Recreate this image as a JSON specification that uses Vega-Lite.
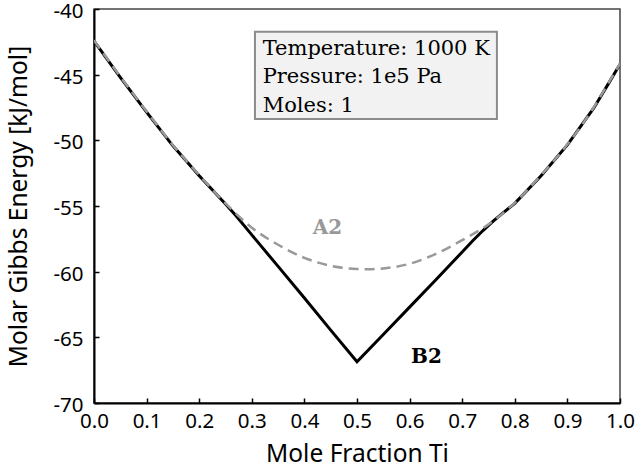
{
  "$schema": "https://vega.github.io/schema/vega-lite/v6.json",
  "width": 526,
  "height": 394,
  "autosize": {"type": "none"},
  "padding": {"left": 94, "top": 9, "right": 17, "bottom": 64},
  "background": "white",
  "config": {
    "view": {"stroke": "#444", "strokeWidth": 1.5},
    "axis": {
      "grid": false,
      "domainColor": "black",
      "domainWidth": 2,
      "tickColor": "black",
      "tickWidth": 1.5,
      "tickSize": -5,
      "labelFont": "Noto Sans",
      "labelFontSize": 20.5,
      "labelColor": "black",
      "labelFlush": false,
      "labelOverlap": false,
      "titleFont": "Noto Sans",
      "titleFontSize": 24.5,
      "titleFontWeight": "normal",
      "titleColor": "black"
    }
  },
  "datasets": {
    "curves": [
      {"x": 0.00, "g": -42.43, "phase": "B2"},
      {"x": 0.02, "g": -43.55, "phase": "B2"},
      {"x": 0.05, "g": -45.20, "phase": "B2"},
      {"x": 0.10, "g": -47.85, "phase": "B2"},
      {"x": 0.15, "g": -50.42, "phase": "B2"},
      {"x": 0.20, "g": -52.70, "phase": "B2"},
      {"x": 0.25, "g": -54.85, "phase": "B2"},
      {"x": 0.27, "g": -55.75, "phase": "B2"},
      {"x": 0.30, "g": -57.20, "phase": "B2"},
      {"x": 0.35, "g": -59.60, "phase": "B2"},
      {"x": 0.40, "g": -62.00, "phase": "B2"},
      {"x": 0.45, "g": -64.45, "phase": "B2"},
      {"x": 0.50, "g": -66.86, "phase": "B2"},
      {"x": 0.55, "g": -64.78, "phase": "B2"},
      {"x": 0.60, "g": -62.70, "phase": "B2"},
      {"x": 0.65, "g": -60.62, "phase": "B2"},
      {"x": 0.70, "g": -58.50, "phase": "B2"},
      {"x": 0.72, "g": -57.65, "phase": "B2"},
      {"x": 0.74, "g": -56.85, "phase": "B2"},
      {"x": 0.76, "g": -56.12, "phase": "B2"},
      {"x": 0.78, "g": -55.45, "phase": "B2"},
      {"x": 0.80, "g": -54.80, "phase": "B2"},
      {"x": 0.85, "g": -52.70, "phase": "B2"},
      {"x": 0.90, "g": -50.35, "phase": "B2"},
      {"x": 0.95, "g": -47.55, "phase": "B2"},
      {"x": 0.98, "g": -45.55, "phase": "B2"},
      {"x": 1.00, "g": -44.20, "phase": "B2"},
      {"x": 0.00, "g": -42.38, "phase": "A2"},
      {"x": 0.02, "g": -43.50, "phase": "A2"},
      {"x": 0.05, "g": -45.15, "phase": "A2"},
      {"x": 0.10, "g": -47.80, "phase": "A2"},
      {"x": 0.15, "g": -50.37, "phase": "A2"},
      {"x": 0.20, "g": -52.65, "phase": "A2"},
      {"x": 0.25, "g": -54.80, "phase": "A2"},
      {"x": 0.30, "g": -56.65, "phase": "A2"},
      {"x": 0.35, "g": -57.95, "phase": "A2"},
      {"x": 0.40, "g": -58.95, "phase": "A2"},
      {"x": 0.45, "g": -59.55, "phase": "A2"},
      {"x": 0.50, "g": -59.80, "phase": "A2"},
      {"x": 0.52, "g": -59.82, "phase": "A2"},
      {"x": 0.55, "g": -59.75, "phase": "A2"},
      {"x": 0.60, "g": -59.40, "phase": "A2"},
      {"x": 0.65, "g": -58.65, "phase": "A2"},
      {"x": 0.70, "g": -57.60, "phase": "A2"},
      {"x": 0.75, "g": -56.40, "phase": "A2"},
      {"x": 0.80, "g": -54.75, "phase": "A2"},
      {"x": 0.85, "g": -52.65, "phase": "A2"},
      {"x": 0.90, "g": -50.30, "phase": "A2"},
      {"x": 0.95, "g": -47.50, "phase": "A2"},
      {"x": 0.98, "g": -45.50, "phase": "A2"},
      {"x": 1.00, "g": -44.17, "phase": "A2"}
    ],
    "infoBox": [
      {"x": 0.306, "x2": 0.766, "y": -41.73, "y2": -48.38}
    ],
    "infoText": [
      {"x": 0.3207, "y": -43.50, "text": "Temperature: 1000 K"},
      {"x": 0.3207, "y": -45.66, "text": "Pressure: 1e5 Pa"},
      {"x": 0.3207, "y": -47.82, "text": "Moles: 1"}
    ],
    "phaseLabels": [
      {"x": 0.444, "y": -56.64, "text": "A2"},
      {"x": 0.632, "y": -66.50, "text": "B2"}
    ]
  },
  "layer": [
    {
      "data": {"name": "curves"},
      "transform": [{"filter": "datum.phase === 'B2'"}],
      "mark": {"type": "line", "color": "black", "strokeWidth": 3, "interpolate": "linear", "clip": true},
      "encoding": {
        "x": {
          "field": "x", "type": "quantitative",
          "scale": {"domain": [0, 1], "nice": false, "zero": false},
          "axis": {
            "title": "Mole Fraction Ti",
            "values": [0, 0.1, 0.2, 0.3, 0.4, 0.5, 0.6, 0.7, 0.8, 0.9, 1.0],
            "labelExpr": "format(datum.value, '.1f')",
            "labelPadding": 13,
            "titleX": 263,
            "titleY": 58,
            "titleAlign": "center",
            "titleBaseline": "alphabetic"
          }
        },
        "y": {
          "field": "g", "type": "quantitative",
          "scale": {"domain": [-70, -40], "nice": false, "zero": false},
          "axis": {
            "title": "Molar Gibbs Energy [kJ/mol]",
            "values": [-70, -65, -60, -55, -50, -45, -40],
            "labelExpr": "'' + datum.value",
            "labelPadding": 16,
            "labelOffset": 2.5,
            "titleX": -68,
            "titleY": 197,
            "titleAngle": -90,
            "titleAlign": "center",
            "titleBaseline": "alphabetic"
          }
        }
      }
    },
    {
      "data": {"name": "curves"},
      "transform": [{"filter": "datum.phase === 'A2'"}],
      "mark": {"type": "line", "color": "#999999", "strokeWidth": 2.5, "strokeDash": [10, 6], "interpolate": "monotone", "clip": true},
      "encoding": {
        "x": {"field": "x", "type": "quantitative"},
        "y": {"field": "g", "type": "quantitative"}
      }
    },
    {
      "data": {"name": "infoBox"},
      "mark": {"type": "rect", "fill": "#f2f2f2", "stroke": "#8c8c8c", "strokeWidth": 2},
      "encoding": {
        "x": {"field": "x", "type": "quantitative"},
        "x2": {"field": "x2"},
        "y": {"field": "y", "type": "quantitative"},
        "y2": {"field": "y2"}
      }
    },
    {
      "data": {"name": "infoText"},
      "mark": {"type": "text", "font": "DejaVu Serif", "fontSize": 21, "align": "left", "baseline": "alphabetic", "color": "black"},
      "encoding": {
        "x": {"field": "x", "type": "quantitative"},
        "y": {"field": "y", "type": "quantitative"},
        "text": {"field": "text"}
      }
    },
    {
      "data": {"name": "phaseLabels"},
      "mark": {"type": "text", "font": "DejaVu Serif", "fontSize": 20, "fontWeight": "bold", "align": "center", "baseline": "middle"},
      "encoding": {
        "x": {"field": "x", "type": "quantitative"},
        "y": {"field": "y", "type": "quantitative"},
        "text": {"field": "text"},
        "color": {
          "field": "text", "type": "nominal",
          "scale": {"domain": ["A2", "B2"], "range": ["#999999", "black"]},
          "legend": null
        }
      }
    }
  ]
}
